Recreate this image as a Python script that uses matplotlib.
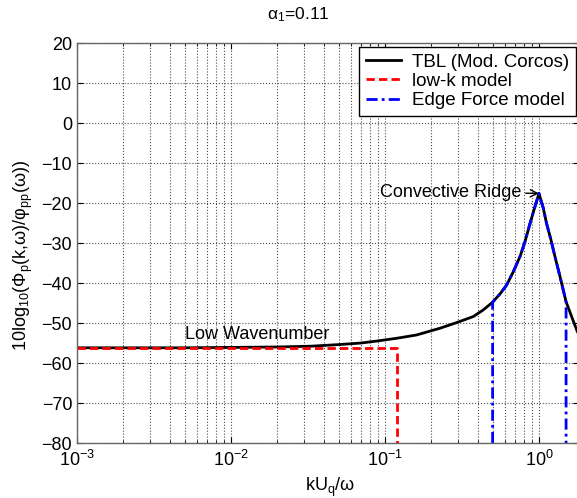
import numpy as np
import matplotlib
matplotlib.use("Agg")
import matplotlib.pyplot as plt
from matplotlib.ticker import LogLocator, NullFormatter

plt.rcParams['font.family'] = ['Liberation Sans', 'DejaVu Sans']
plt.rcParams['mathtext.default'] = 'regular'

# TBL wavenumber-frequency spectrum (modified Corcos), dB
k_tbl = [0.001, 0.005, 0.01, 0.02, 0.033, 0.05, 0.07, 0.089, 0.12, 0.16,
         0.228, 0.292, 0.374, 0.434, 0.5, 0.558, 0.617, 0.681, 0.753, 0.811,
         0.875, 0.942, 1.0, 1.067, 1.12, 1.197, 1.27, 1.37, 1.5, 1.63, 1.76, 2.0]
tbl_db = [-56.2, -56.2, -56.1, -56.0, -55.8, -55.4, -55.0, -54.5, -53.8, -53.0,
          -51.3, -49.9, -48.4, -46.75, -44.8, -42.75, -40.5, -37.2, -33.4, -29.7,
          -25.1, -20.9, -17.6, -21.3, -25.1, -29.25, -33.4, -38.4, -44.7, -48.4, -51.8, -56.5]

# low-k model: constant level up to the cut-off
k_low = [0.001, 0.12, 0.12]
low_db = [-56.2, -56.2, -80]

# edge force model: follows the ridge between 0.5 and 1.5
k_edge = [0.5, 0.5, 0.558, 0.617, 0.681, 0.753, 0.811, 0.875, 0.942, 1.0,
          1.067, 1.12, 1.197, 1.27, 1.37, 1.5, 1.5]
edge_db = [-80, -44.8, -42.75, -40.5, -37.2, -33.4, -29.7, -25.1, -20.9, -17.6,
           -21.3, -25.1, -29.25, -33.4, -38.4, -44.7, -80]

W, H = 577, 498
fig = plt.figure(figsize=(W / 100, H / 100), dpi=100)
ax = fig.add_axes([77 / W, (H - 443) / H, 502 / W, 400 / H])

ax.semilogx(k_tbl, tbl_db, color='k', lw=2, label='TBL (Mod. Corcos)')
ax.semilogx(k_low, low_db, color='r', lw=2, dashes=(3, 1.5), label='low-k model')
ax.semilogx(k_edge, edge_db, color='b', lw=2, dashes=(4, 1.5, 1, 1.5),
            label='Edge Force model')

ax.set_xlim(1e-3, 10 ** 0.26)
ax.set_ylim(-80, 20)
ax.set_yticks(np.arange(-80, 21, 10))
ax.xaxis.set_major_locator(LogLocator(base=10, numticks=10))
ax.xaxis.set_minor_locator(LogLocator(base=10, subs=np.arange(2, 10), numticks=10))
ax.xaxis.set_minor_formatter(NullFormatter())

ax.grid(True, which='major', linestyle=':', color='0.3', lw=0.8)
ax.grid(True, which='minor', axis='x', linestyle=':', color='0.3', lw=0.8)
ax.tick_params(which='both', direction='in', top=True, right=True, labelsize=13)
ax.tick_params(which='major', length=4)
ax.tick_params(which='minor', length=2)
ax.tick_params(axis='x', pad=5)
for s in ax.spines.values():
    s.set_color('0.4')
    s.set_linewidth(1)

ax.text(0.005, -52.8, 'Low Wavenumber', fontsize=13, va='center', ha='left')
ax.annotate('Convective Ridge', xy=(1.0, -17.6), xytext=(0.093, -17.3),
            fontsize=13, va='center', ha='left',
            arrowprops=dict(arrowstyle='->', color='k', lw=1,
                            shrinkA=1, shrinkB=0))

fig.text(298 / W, 1 - 15 / H, r'$\alpha_1$=0.11', fontsize=12.5,
         ha='center', va='center')
fig.text(23 / W, 1 - 255 / H, '10log$_{10}$(Φ$_p$(k,ω)/φ$_{pp}$(ω))',
         fontsize=13, rotation=90, ha='center', va='center')
fig.text(330 / W, 1 - 487 / H, 'kU$_q$/ω', fontsize=13, ha='center', va='center')

leg = ax.legend(loc='upper left', bbox_to_anchor=(359 / W, 1 - 47 / H),
                bbox_transform=fig.transFigure, borderaxespad=0,
                fontsize=13.5, fancybox=False, framealpha=1,
                edgecolor='k', handlelength=1.9, handletextpad=0.6,
                labelspacing=0.12, borderpad=0.35)
leg.get_frame().set_linewidth(1)

fig.savefig('out.png', dpi=100)
